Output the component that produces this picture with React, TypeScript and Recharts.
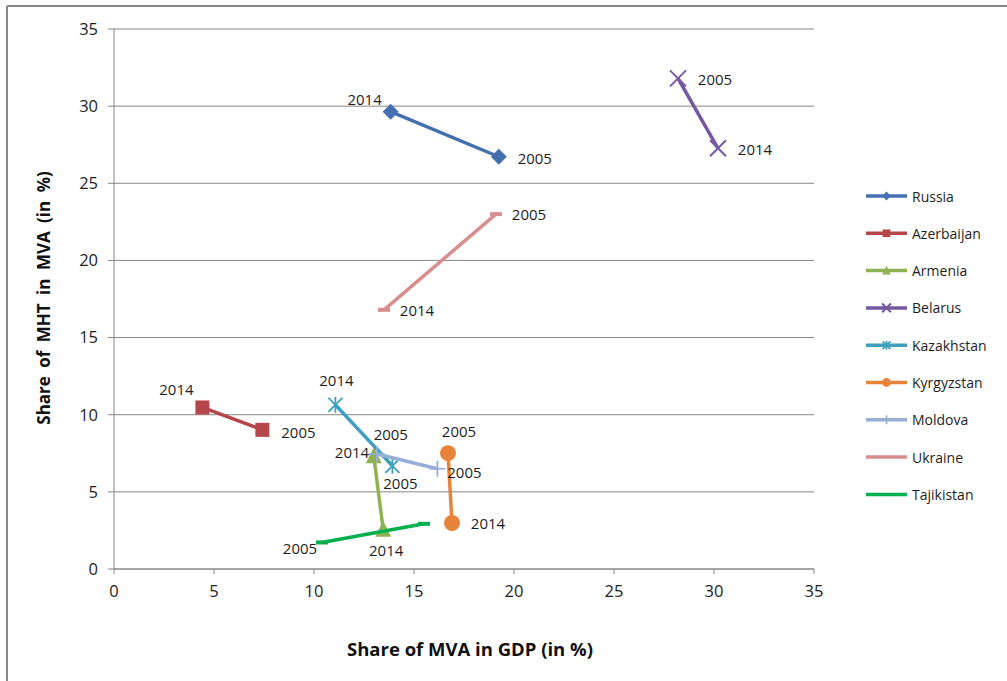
import React from 'react';
import { ScatterChart, Scatter, XAxis, YAxis, CartesianGrid } from 'recharts';

// values (share of MVA in GDP, share of MHT in MVA)
const russiaX = [13.83, 19.24];
const russiaY = [29.64, 26.72];
const russiaYears = ['2014', '2005'];

const azerbaijanX = [4.42, 7.42];
const azerbaijanY = [10.47, 9.02];
const azerbaijanYears = ['2014', '2005'];

const armeniaX = [12.99, 13.46];
const armeniaY = [7.3, 2.55];
const armeniaYears = ['2005', '2014'];

const belarusX = [28.2, 30.2];
const belarusY = [31.8, 27.27];
const belarusYears = ['2005', '2014'];

const kazakhstanX = [11.07, 13.92];
const kazakhstanY = [10.64, 6.69];
const kazakhstanYears = ['2014', '2005'];

const kyrgyzstanX = [16.7, 16.9];
const kyrgyzstanY = [7.51, 2.98];
const kyrgyzstanYears = ['2005', '2014'];

const moldovaX = [13.15, 16.17];
const moldovaY = [7.45, 6.5];
const moldovaYears = ['2014', '2005'];

const ukraineX = [19.1, 13.5];
const ukraineY = [23.0, 16.8];
const ukraineYears = ['2005', '2014'];

const tajikistanX = [10.4, 15.5];
const tajikistanY = [1.72, 2.93];
const tajikistanYears = ['2005', ''];

const axisTicks = [0, 5, 10, 15, 20, 25, 30, 35];

type Marker = 'diamond' | 'square' | 'triangle' | 'x' | 'asterisk' | 'circle' | 'plus' | 'dash';

const series = [
  { name: 'Russia', xs: russiaX, ys: russiaY, years: russiaYears, color: '#4470B0', marker: 'diamond' as Marker, offsets: [[-26, -13], [36, 1]] },
  { name: 'Azerbaijan', xs: azerbaijanX, ys: azerbaijanY, years: azerbaijanYears, color: '#B5474A', marker: 'square' as Marker, offsets: [[-26, -18], [36, 2]] },
  { name: 'Armenia', xs: armeniaX, ys: armeniaY, years: armeniaYears, color: '#8FB252', marker: 'triangle' as Marker, offsets: [[17, -22], [3, 20]] },
  { name: 'Belarus', xs: belarusX, ys: belarusY, years: belarusYears, color: '#7458A0', marker: 'x' as Marker, offsets: [[37, 1], [37, 1]] },
  { name: 'Kazakhstan', xs: kazakhstanX, ys: kazakhstanY, years: kazakhstanYears, color: '#3EA0BC', marker: 'asterisk' as Marker, offsets: [[1, -25], [8, 17]] },
  { name: 'Kyrgyzstan', xs: kyrgyzstanX, ys: kyrgyzstanY, years: kyrgyzstanYears, color: '#E6843C', marker: 'circle' as Marker, offsets: [[11, -22], [36, 0]] },
  { name: 'Moldova', xs: moldovaX, ys: moldovaY, years: moldovaYears, color: '#97AED8', marker: 'plus' as Marker, offsets: [[-25, -2], [27, 3]] },
  { name: 'Ukraine', xs: ukraineX, ys: ukraineY, years: ukraineYears, color: '#D88E8E', marker: 'dash' as Marker, offsets: [[33, 0], [33, 0]] },
  { name: 'Tajikistan', xs: tajikistanX, ys: tajikistanY, years: tajikistanYears, color: '#00B04F', marker: 'dash' as Marker, offsets: [[-22, 6], [0, 0]] },
];

const FONT = '"Open Sans", Calibri, sans-serif';
const GRID = '#868686';
const TEXT = '#1e1e1e';

function MarkerGlyph({ kind, cx, cy, color, s = 1 }: { kind: Marker; cx: number; cy: number; color: string; s?: number }) {
  switch (kind) {
    case 'diamond':
      return <polygon points={`${cx},${cy - 8 * s} ${cx + 8 * s},${cy} ${cx},${cy + 8 * s} ${cx - 8 * s},${cy}`} fill={color} />;
    case 'square':
      return <rect x={cx - 7 * s} y={cy - 7 * s} width={14 * s} height={14 * s} fill={color} />;
    case 'triangle':
      return <polygon points={`${cx},${cy - 9 * s} ${cx + 8 * s},${cy + 7 * s} ${cx - 8 * s},${cy + 7 * s}`} fill={color} />;
    case 'x':
      return (
        <g stroke={color} strokeWidth={2}>
          <line x1={cx - 8 * s} y1={cy - 8 * s} x2={cx + 8 * s} y2={cy + 8 * s} />
          <line x1={cx - 8 * s} y1={cy + 8 * s} x2={cx + 8 * s} y2={cy - 8 * s} />
        </g>
      );
    case 'asterisk':
      return (
        <g stroke={color} strokeWidth={1.8}>
          <line x1={cx - 7 * s} y1={cy - 7 * s} x2={cx + 7 * s} y2={cy + 7 * s} />
          <line x1={cx - 7 * s} y1={cy + 7 * s} x2={cx + 7 * s} y2={cy - 7 * s} />
          <line x1={cx} y1={cy - 8 * s} x2={cx} y2={cy + 8 * s} />
        </g>
      );
    case 'circle':
      return <circle cx={cx} cy={cy} r={8 * s} fill={color} />;
    case 'plus':
      return (
        <g stroke={color} strokeWidth={1.8}>
          <line x1={cx - 8 * s} y1={cy} x2={cx + 8 * s} y2={cy} />
          <line x1={cx} y1={cy - 8 * s} x2={cx} y2={cy + 8 * s} />
        </g>
      );
    case 'dash':
      return <rect x={cx - 6 * s} y={cy - 2} width={12 * s} height={4} fill={color} />;
  }
  return null;
}

function makeShape(s: typeof series[number]) {
  return (props: any) => {
    const { cx, cy, payload } = props;
    const [dx, dy] = s.offsets[payload.i] || [0, 0];
    return (
      <g>
        <MarkerGlyph kind={s.marker} cx={cx} cy={cy} color={s.color} />
        {payload.year ? (
          <text x={cx + dx} y={cy + dy} textAnchor="middle" dominantBaseline="central" fontFamily={FONT} fontSize={15} fill={TEXT}>
            {payload.year}
          </text>
        ) : null}
      </g>
    );
  };
}

export default function App() {
  return (
    <div style={{ position: 'absolute', left: 0, top: 0, width: 1007, height: 681, background: '#fff' }}>
      <ScatterChart width={1007} height={681} margin={{ top: 29, right: 193, bottom: 82, left: 14 }}>
        <CartesianGrid horizontal vertical={false} stroke={GRID} strokeDasharray="" />
        <XAxis
          type="number"
          dataKey="x"
          domain={[0, 35]}
          ticks={axisTicks}
          height={30}
          stroke={GRID}
          tickSize={5}
          tickMargin={11}
          tick={{ fill: TEXT, fontSize: 16.5, fontFamily: FONT }}
          allowDataOverflow
        />
        <YAxis
          type="number"
          dataKey="y"
          domain={[0, 35]}
          ticks={axisTicks}
          width={100}
          stroke={GRID}
          tickSize={6}
          tickMargin={10}
          tick={{ fill: TEXT, fontSize: 16.5, fontFamily: FONT }}
          allowDataOverflow
        />
        {series.map((s) => (
          <Scatter
            key={s.name}
            name={s.name}
            data={s.xs.map((x, i) => ({ x, y: s.ys[i], year: s.years[i], i }))}
            fill={s.color}
            line={{ stroke: s.color, strokeWidth: 3.5 }}
            lineType="joint"
            shape={makeShape(s)}
            isAnimationActive={false}
          />
        ))}
      </ScatterChart>

      <svg width={1007} height={681} style={{ position: 'absolute', left: 0, top: 0, pointerEvents: 'none' }}>
        <line x1={7} y1={6} x2={1007} y2={6} stroke="#898989" strokeWidth={2} />
        <line x1={7} y1={6} x2={7} y2={681} stroke="#898989" strokeWidth={2} />
        <text x={470} y={648} textAnchor="middle" dominantBaseline="central" fontFamily={FONT} fontWeight="bold" fontSize={18.5} fill="#111">
          Share of MVA in GDP (in %)
        </text>
        <text
          x={43}
          y={298}
          transform="rotate(-90 43 298)"
          textAnchor="middle"
          dominantBaseline="central"
          fontFamily={FONT}
          fontWeight="bold"
          fontSize={17}
          wordSpacing={4}
          fill="#111"
        >
          Share of MHT in MVA (in %)
        </text>
        {series.map((s, i) => {
          const y = 196 + i * 37.3;
          return (
            <g key={s.name}>
              <line x1={866} y1={y} x2={907} y2={y} stroke={s.color} strokeWidth={3.5} />
              {s.marker !== 'dash' ? <MarkerGlyph kind={s.marker} cx={886.5} cy={y} color={s.color} s={0.55} /> : null}
              <text x={912} y={y} dominantBaseline="central" fontFamily={FONT} fontSize={14} fill={TEXT}>
                {s.name}
              </text>
            </g>
          );
        })}
      </svg>
    </div>
  );
}
